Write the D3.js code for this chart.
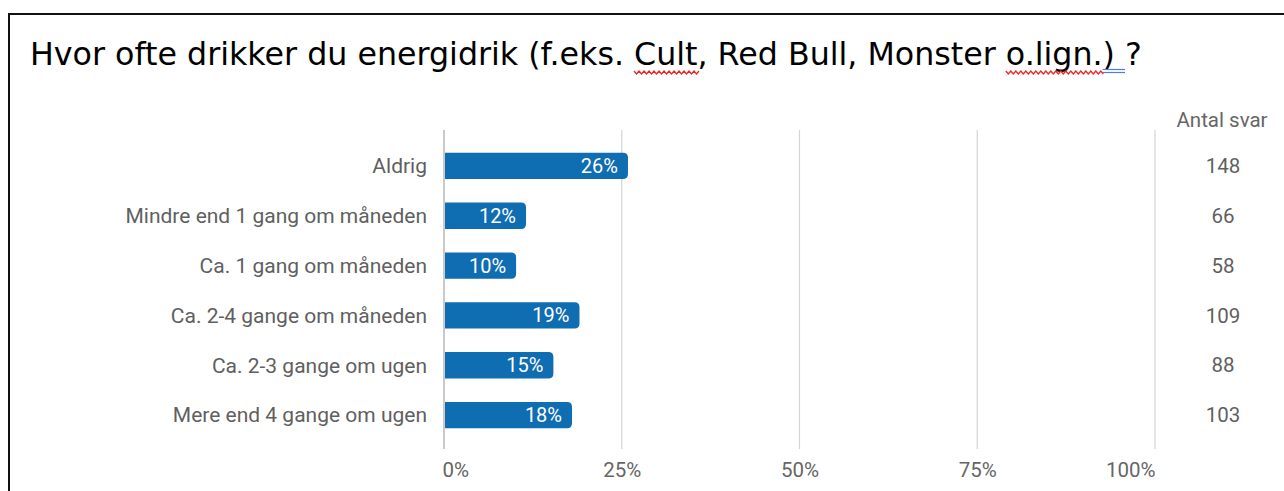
<!DOCTYPE html>
<html>
<head>
<meta charset="utf-8">
<script src="https://cdn.jsdelivr.net/npm/d3@7"></script>
<style>
  html, body { margin: 0; padding: 0; background: #fff; }
  svg { display: block; }
</style>
</head>
<body>
<div id="chart"></div>
<script>
const categories = [
  "Aldrig",
  "Mindre end 1 gang om måneden",
  "Ca. 1 gang om måneden",
  "Ca. 2-4 gange om måneden",
  "Ca. 2-3 gange om ugen",
  "Mere end 4 gange om ugen"
];
const counts = [148, 66, 58, 109, 88, 103];
const tickValues = [0, 0.25, 0.5, 0.75, 1];
const title = "Hvor ofte drikker du energidrik (f.eks. Cult, Red Bull, Monster o.lign.) ?";
const countHeader = "Antal svar";

const width = 1284, height = 491;
const total = d3.sum(counts);
const rows = categories.map((c, i) => ({ cat: c, n: counts[i], share: counts[i] / total }));

const svg = d3.select("#chart").append("svg")
  .attr("width", width)
  .attr("height", height);

// frame (picture is cropped, only top and left edges visible)
svg.append("path")
  .attr("d", "M9,500 V14 H1300")
  .attr("fill", "none")
  .attr("stroke", "#111")
  .attr("stroke-width", 2);

// title
const titleText = svg.append("text")
  .attr("x", 30)
  .attr("y", 65)
  .attr("font-family", "DejaVu Sans, Verdana, sans-serif")
  .attr("font-size", 31.7)
  .attr("fill", "#000")
  .text(title);

// Word-style proofing marks under the title
function markUnder(word, color, kind) {
  const node = titleText.node();
  const start = title.indexOf(word);
  const x0 = node.getStartPositionOfChar(start).x;
  const x1 = node.getEndPositionOfChar(start + word.length - 1).x;
  if (kind === "wave") {
    let d = `M${x0},71`;
    for (let x = x0, k = 0; x < x1; x += 2.5, k++) d += ` L${x + 2.5},${k % 2 ? 71 : 74}`;
    svg.append("path").attr("d", d).attr("fill", "none")
      .attr("stroke", color).attr("stroke-width", 1.3);
  } else {
    [69.5, 72.5].forEach(y => svg.append("line")
      .attr("x1", x0).attr("x2", x1).attr("y1", y).attr("y2", y)
      .attr("stroke", color).attr("stroke-width", 1.2));
  }
}
markUnder("Cult", "#e22", "wave");
markUnder("o.lign.", "#e22", "wave");
markUnder(") ", "#4a7ee0", "double");

const margin = { left: 444, right: 129, top: 141, bottom: 52 };
const x = d3.scaleLinear().domain([0, 1]).range([margin.left, width - margin.right]);
const y = d3.scaleBand().domain(categories).range([margin.top, 440]).paddingInner(0.47).paddingOuter(0.235);

// grid + axis
const g = svg.append("g");
g.selectAll("line.grid")
  .data(tickValues)
  .join("line")
  .attr("class", "grid")
  .attr("x1", d => x(d)).attr("x2", d => x(d))
  .attr("y1", 130).attr("y2", 449)
  .attr("stroke", d => d === 0 ? "#b8b8b8" : "#d4d4d4")
  .attr("stroke-width", d => d === 0 ? 1.5 : 1.2);

const axis = d3.axisBottom(x).tickValues(tickValues).tickFormat(d3.format(".0%")).tickSize(0).tickPadding(0);
const ax = svg.append("g").attr("transform", "translate(0,477)").call(axis);
ax.select(".domain").remove();
ax.selectAll("text")
  .attr("dy", 0)
  .attr("x", (d, i) => i === 0 ? -2 : 0)
  .attr("text-anchor", (d, i) => i === 0 ? "start" : i === tickValues.length - 1 ? "end" : "middle")
  .attr("font-family", "Roboto, sans-serif")
  .attr("font-size", 20.5)
  .attr("fill", "#666");

// category labels
svg.append("g").selectAll("text")
  .data(rows)
  .join("text")
  .attr("x", x(0) - 17)
  .attr("y", d => y(d.cat) + y.bandwidth() / 2)
  .attr("dy", "0.35em")
  .attr("text-anchor", "end")
  .attr("font-family", "Roboto, sans-serif")
  .attr("font-size", 21)
  .attr("fill", "#5f5f5f")
  .text(d => d.cat);

// bars, rounded on the right end only
const r = 5;
svg.append("g").selectAll("path")
  .data(rows)
  .join("path")
  .attr("fill", "#0f6db2")
  .attr("d", d => {
    const x0 = x(0) + 1, x1 = x(d.share), y0 = y(d.cat), h = y.bandwidth();
    return `M${x0},${y0} H${x1 - r} Q${x1},${y0} ${x1},${y0 + r} V${y0 + h - r} Q${x1},${y0 + h} ${x1 - r},${y0 + h} H${x0} Z`;
  });

// percentage labels inside bars
svg.append("g").selectAll("text")
  .data(rows)
  .join("text")
  .attr("x", d => x(d.share) - 10)
  .attr("y", d => y(d.cat) + y.bandwidth() / 2)
  .attr("dy", "0.35em")
  .attr("text-anchor", "end")
  .attr("font-family", "Roboto, sans-serif")
  .attr("font-size", 20)
  .attr("fill", "#fff")
  .text(d => Math.round(d.share * 100) + "%");

// count column
svg.append("text")
  .attr("x", 1222)
  .attr("y", 120)
  .attr("dy", "0.35em")
  .attr("text-anchor", "middle")
  .attr("font-family", "Roboto, sans-serif")
  .attr("font-size", 20.5)
  .attr("fill", "#666")
  .text(countHeader);

svg.append("g").selectAll("text")
  .data(rows)
  .join("text")
  .attr("x", 1223)
  .attr("y", d => y(d.cat) + y.bandwidth() / 2)
  .attr("dy", "0.35em")
  .attr("text-anchor", "middle")
  .attr("font-family", "Roboto, sans-serif")
  .attr("font-size", 20.5)
  .attr("fill", "#5f5f5f")
  .text(d => d.n);
</script>
</body>
</html>
